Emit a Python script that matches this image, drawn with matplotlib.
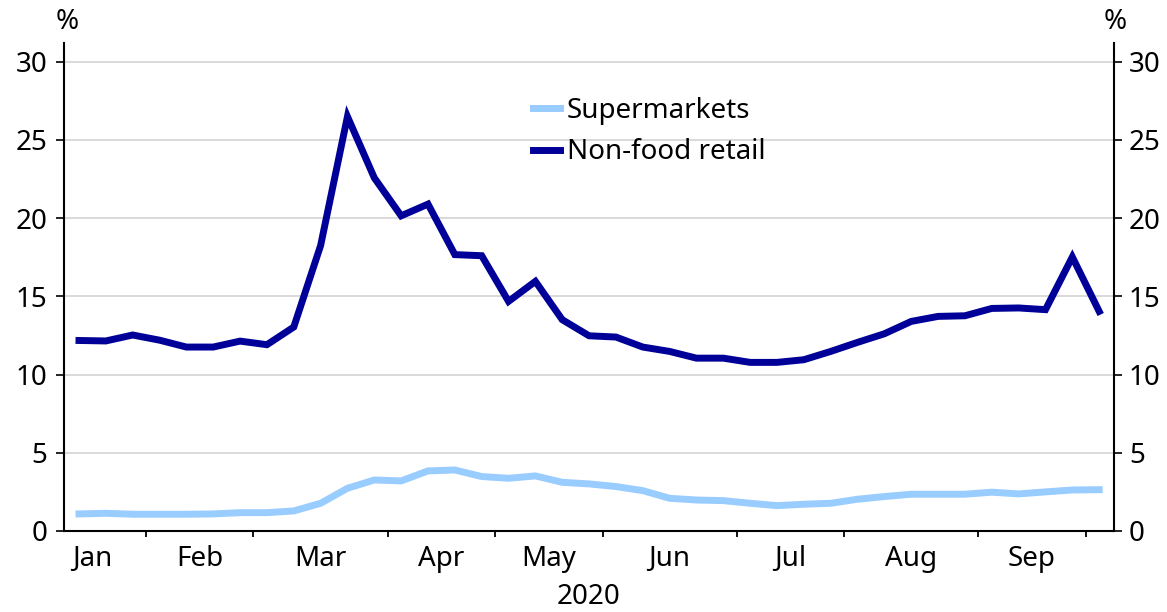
import matplotlib
matplotlib.use("Agg")
import matplotlib.pyplot as plt
import numpy as np

plt.rcParams['font.family'] = ['Noto Sans', 'DejaVu Sans']

# Weekly share of spending (%), Jan to end-Sep 2020
supermarkets = [1.09, 1.13, 1.07, 1.07, 1.07, 1.09, 1.17, 1.17, 1.28, 1.77,
                2.73, 3.26, 3.20, 3.84, 3.90, 3.48, 3.37, 3.52, 3.11, 3.01,
                2.84, 2.58, 2.09, 1.98, 1.94, 1.77, 1.62, 1.71, 1.77, 2.03,
                2.20, 2.35, 2.35, 2.35, 2.48, 2.37, 2.50, 2.62, 2.64]
non_food = [12.18, 12.15, 12.53, 12.20, 11.76, 11.76, 12.14, 11.91, 13.04, 18.25,
            26.50, 22.58, 20.15, 20.90, 17.67, 17.60, 14.68, 15.96, 13.51, 12.48,
            12.40, 11.76, 11.48, 11.05, 11.05, 10.78, 10.78, 10.95, 11.48, 12.06,
            12.61, 13.40, 13.72, 13.76, 14.23, 14.26, 14.15, 17.52, 14.04]

months = ['Jan', 'Feb', 'Mar', 'Apr', 'May', 'Jun', 'Jul', 'Aug', 'Sep']
weeks_per_month = [3, 4, 5, 4, 4, 5, 4, 5, 4]
year_label = '2020'

light_blue = '#99CCFF'
navy = '#000099'
fs = 20

fig = plt.figure(figsize=(11.67, 6.12), dpi=100)
ax = fig.add_axes([0.0548, 0.1324, 0.8995, 0.7973])

x = np.arange(len(non_food))
ax.plot(x, supermarkets, color=light_blue, lw=5, solid_joinstyle='miter',
        label='Supermarkets', zorder=3)
ax.plot(x, non_food, color=navy, lw=5, solid_joinstyle='miter',
        label='Non-food retail', zorder=4)

ax.set_xlim(-0.56, 38.54)
ax.set_ylim(0, 31.2)

# month boundaries (tick marks) and centred month labels
bounds = np.cumsum(weeks_per_month) - 0.5
centres = [bounds[0] - 2] + list((bounds[:-1] + bounds[1:]) / 2)
ax.set_xticks(bounds, minor=True)
ax.set_xticks(centres)
ax.set_xticklabels(months)
ax.tick_params(axis='x', which='major', length=0, pad=10, labelsize=fs)
ax.tick_params(axis='x', which='minor', length=4, width=1.3, direction='out')

ax.set_yticks(np.arange(0, 31, 5))
ax.tick_params(axis='y', length=6, width=1.2, pad=6, labelsize=fs)
ax.grid(axis='y', color='#d3d3d3', lw=1.2)
ax.set_axisbelow(True)

for side in ['left', 'bottom']:
    ax.spines[side].set_linewidth(1.5)
ax.spines['top'].set_visible(False)
ax.spines['right'].set_visible(False)

ax2 = ax.twinx()
ax2.set_ylim(ax.get_ylim())
ax2.set_yticks(np.arange(0, 31, 5))
ax2.tick_params(axis='y', length=6, width=1.2, pad=5, labelsize=fs)
ax2.spines['right'].set_linewidth(1.5)
for side in ['left', 'top', 'bottom']:
    ax2.spines[side].set_visible(False)

fig.text(66.7 / 1167, 1 - 21.7 / 612, '%', ha='center', va='center', fontsize=fs)
fig.text(1114.7 / 1167, 1 - 21.7 / 612, '%', ha='center', va='center', fontsize=fs)
fig.text(588.9 / 1167, 1 - 597 / 612, year_label, ha='center', va='center', fontsize=fs)

leg = ax.legend(loc='upper left', bbox_to_anchor=(0.447, 0.889), frameon=False,
                fontsize=fs, handlelength=0.95, handletextpad=0.25,
                labelspacing=0.47, borderpad=0, borderaxespad=0)
for h in leg.get_lines():
    h.set_linewidth(5)

fig.savefig('out.png', dpi=100)
